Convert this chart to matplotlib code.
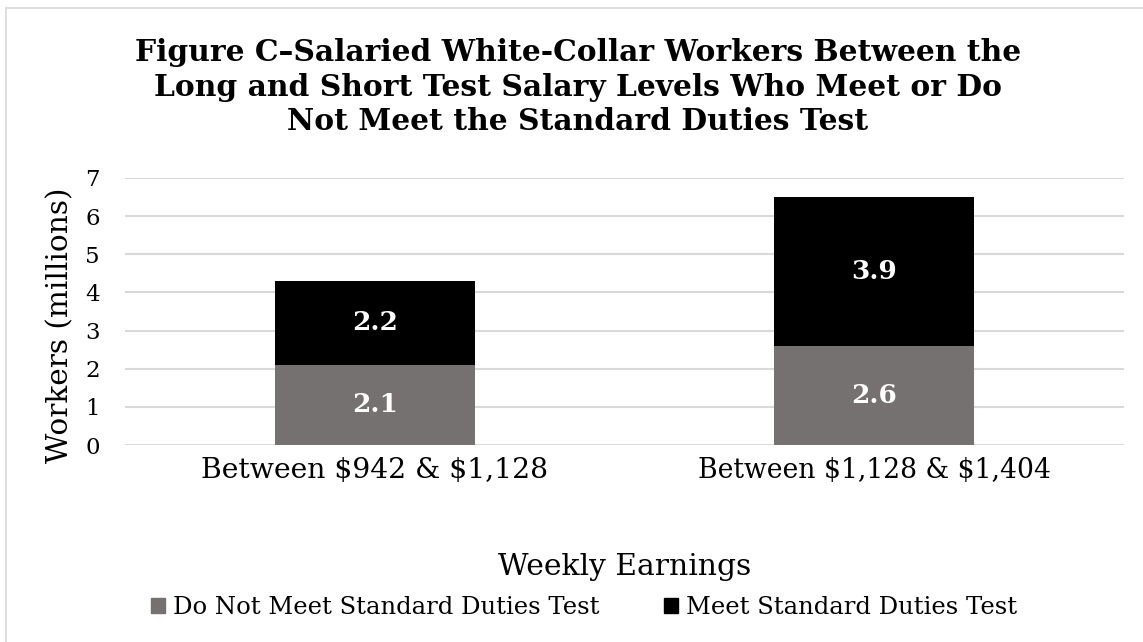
import matplotlib
matplotlib.use("Agg")
import matplotlib.pyplot as plt
from matplotlib.patches import Patch
from matplotlib.lines import Line2D

categories = ["Between $942 & $1,128", "Between $1,128 & $1,404"]
do_not_meet = [2.1, 2.6]
meet = [2.2, 3.9]
series_names = ["Do Not Meet Standard Duties Test", "Meet Standard Duties Test"]
yticks = [0, 1, 2, 3, 4, 5, 6, 7]

plt.rcParams['font.family'] = ['DejaVu Serif']
plt.rcParams['text.parse_math'] = False

W, H = 1143, 642
fig = plt.figure(figsize=(W / 100, H / 100), dpi=100)
ax = fig.add_axes([125 / W, 1 - 445 / H, (1124 - 125) / W, (445 - 178) / H])

gray = "#767171"
black = "#000000"
x = list(range(len(categories)))
ax.bar(x, do_not_meet, width=0.4, color=gray, zorder=3)
ax.bar(x, meet, width=0.4, bottom=do_not_meet, color=black, zorder=3)

for xi, v in zip(x, do_not_meet):
    ax.text(xi, v / 2, f"{v:.1f}", ha="center", va="center", color="white",
            fontsize=19, fontweight="bold", zorder=4)
for xi, b, v in zip(x, do_not_meet, meet):
    ax.text(xi, b + v / 2, f"{v:.1f}", ha="center", va="center", color="white",
            fontsize=19, fontweight="bold", zorder=4)

ax.set_xlim(-0.5, 1.5)
ax.set_ylim(0, 7)
ax.set_yticks(yticks)
ax.set_yticklabels([str(t) for t in yticks], fontsize=16.5)
ax.set_xticks(x)
ax.set_xticklabels(categories, fontsize=18)
ax.tick_params(axis="both", length=0)
ax.tick_params(axis="y", pad=18)
ax.tick_params(axis="x", pad=9)
ax.grid(axis="y", color="#d9d9d9", linewidth=1.5, zorder=0)
for s in ax.spines.values():
    s.set_visible(False)

ylab = fig.text(60 / W, 1 - 325 / H, "Workers (millions)", rotation=90,
                ha="center", va="center", fontsize=21)

xl = fig.text((125 + 1124) / 2 / W, 1 - 567 / H, "Weekly Earnings", ha="center",
              va="center", fontsize=18)

title = fig.text(578 / W, 1 - 87 / H,
                 "Figure C\u2013Salaried White-Collar Workers Between the\n"
                 "Long and Short Test Salary Levels Who Meet or Do\n"
                 "Not Meet the Standard Duties Test",
                 ha="center", va="center", fontsize=21.5, fontweight="bold",
                 linespacing=1.26)

handles = [Patch(color=gray), Patch(color=black)]
leg = fig.legend(handles, series_names, loc="center", bbox_to_anchor=(584 / W, 1 - 607 / H),
                 ncol=2, frameon=False, fontsize=17, handlelength=0.6, handleheight=0.6,
                 handletextpad=0.35, columnspacing=2.7)

# fit text widths to the reference layout
fig.canvas.draw()
r = fig.canvas.get_renderer()

def fit(t, target, vertical=False):
    bb = t.get_window_extent(r)
    size = bb.height if vertical else bb.width
    t.set_fontsize(t.get_fontsize() * target / size)

fit(title, 887)
fit(xl, 253)
for t, tw in zip(ax.get_xticklabels(), [348, 353]):
    fit(t, tw)
fit(leg.get_texts()[0], 426)
leg.get_texts()[1].set_fontsize(leg.get_texts()[0].get_fontsize())
fit(ylab, 274, vertical=True)

fig.add_artist(Line2D([6 / W, 6 / W], [0, 1 - 8 / H], transform=fig.transFigure,
                      color="#d9d9d9", linewidth=1.2))
fig.add_artist(Line2D([6 / W, 1], [1 - 8 / H, 1 - 8 / H], transform=fig.transFigure,
                      color="#d9d9d9", linewidth=1.2))

fig.savefig("out.png", dpi=100)
